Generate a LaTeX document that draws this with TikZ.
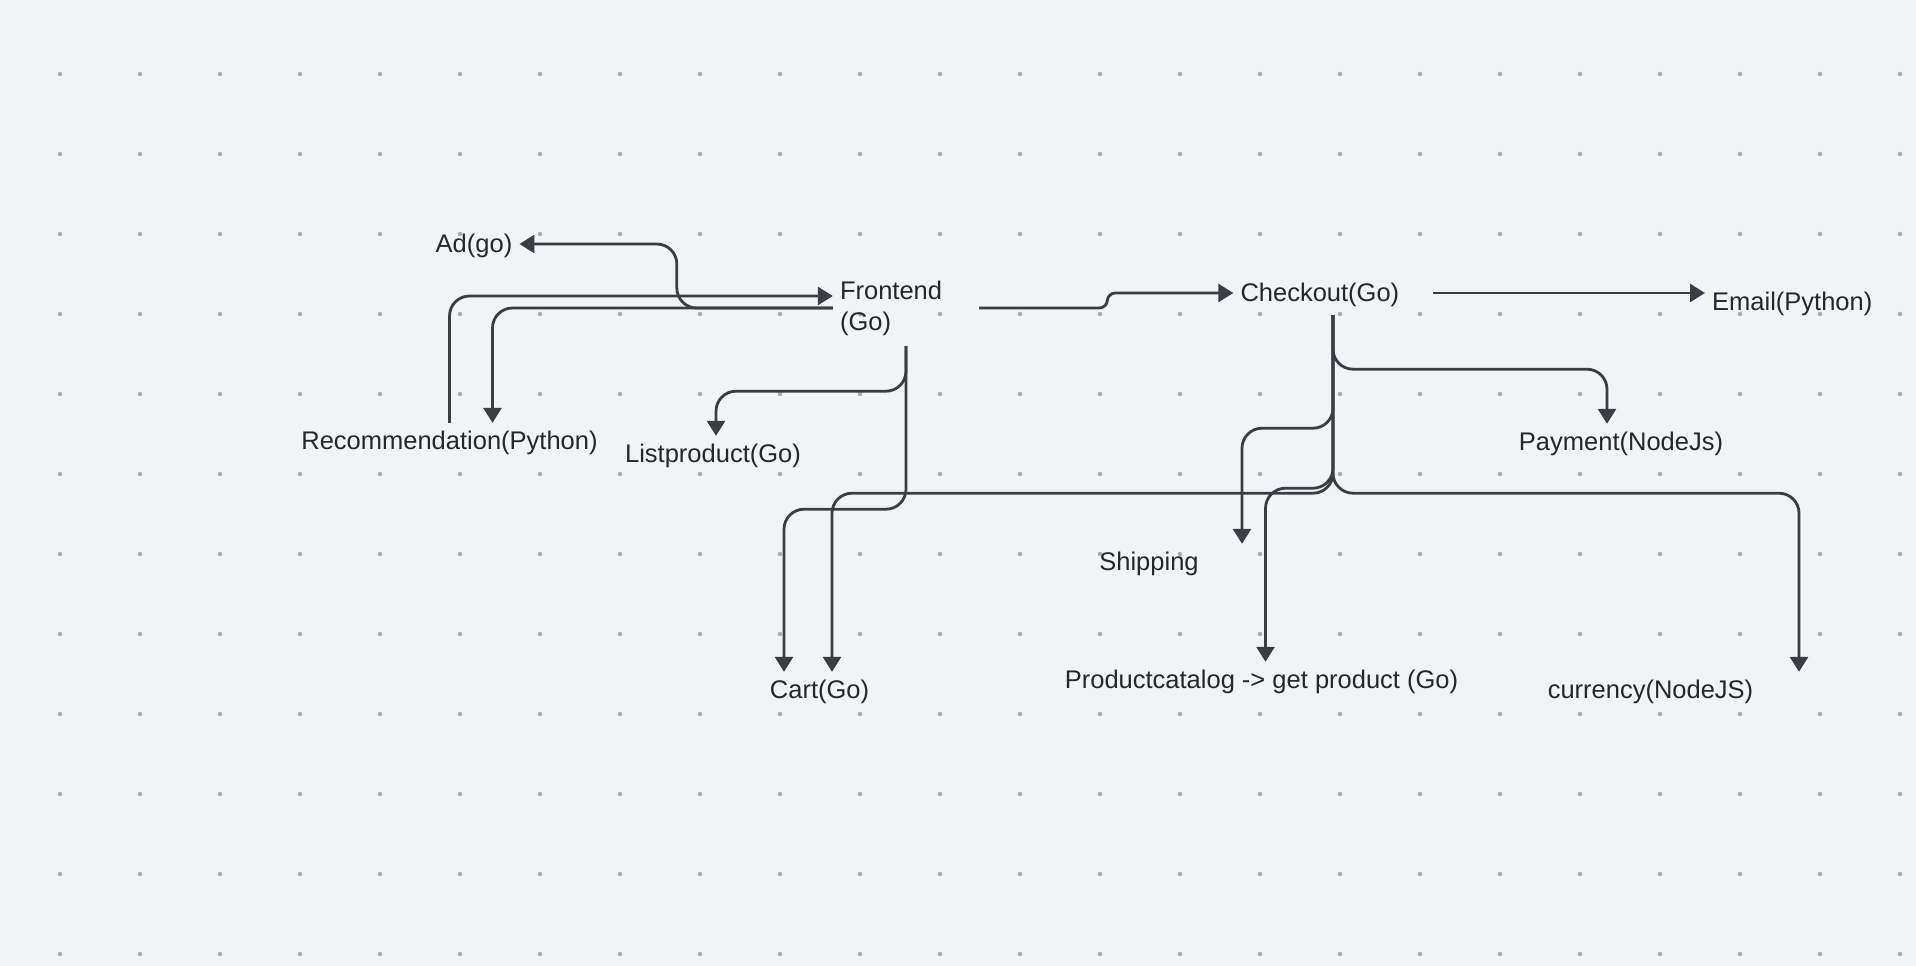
\documentclass[tikz,border=0pt]{standalone}
\usepackage{fontspec}
\setmainfont{Liberation Sans}
\usetikzlibrary{arrows.meta,positioning}
\definecolor{bgcol}{HTML}{F2F3F5}
\definecolor{dotcol}{HTML}{A8AAAF}
\definecolor{linecol}{HTML}{3A3D44}
\definecolor{txtcol}{HTML}{25272B}
\tikzset{
  lbl/.style={font=\fontsize{25.5}{31}\selectfont, text=txtcol, text height=20pt, text depth=4pt, inner xsep=7pt, inner ysep=6pt},
  arr/.style={draw=linecol, line width=2.8pt, rounded corners=20pt, -{Triangle[length=15pt,width=18pt]}},
}
\begin{document}
\begin{tikzpicture}[x=1pt, y=-1pt]
    % 背景
    \fill[bgcol] (0,0) rectangle (1916,966);
    \useasboundingbox (0,0) rectangle (1916,966);
    \foreach \x in {60,140,...,1900}
      \foreach \y in {74,154,...,954}
        \fill[dotcol] (\x,\y) circle (2.2pt);
    % サービス
    \node[lbl] (ad) at (474,244) {Ad(go)};
    \node[lbl] (rec) at (449.5,441) {Recommendation(Python)};
    \node[lbl] (list) at (713,454) {Listproduct(Go)};
    \node[lbl, text height=, text depth=, inner ysep=10pt, minimum height=76pt, text width=132pt, align=left] (front) at (906,308) {Frontend\\(Go)};
    \node[lbl, text width=185pt, align=left, minimum height=44pt] (checkout) at (1333,293) {Checkout(Go)};
    \node[lbl, anchor=west] (email) at (1705,302) {Email(Python)};
    \node[lbl] (payment) at (1621,442) {Payment(NodeJs)};
    \node[lbl] (shipping) at (1149,562) {Shipping};
    \node[lbl] (cart) at (819.5,690) {Cart(Go)};
    \node[lbl] (catalog) at (1261.5,680) {Productcatalog -> get product (Go)};
    \node[lbl] (currency) at (1650.5,690) {currency(NodeJS)};
    % Frontend から
    \draw[arr] (front.west) -- ++(-156,0) |- (ad.east);
    \draw[arr] (front.west) -| ([xshift=43pt]rec.north);
    \draw[arr] (rec.north) |- ([yshift=12pt]front.west);
    \draw[arr] (front.south) -- ++(0,45) -| ([xshift=3pt]list.north);
    \draw[arr] (front.south) -- ++(0,163) -| ([xshift=-35.5pt]cart.north);
    \draw[arr, rounded corners=8pt] (front.east) -| ([xshift=-126pt]checkout.west) -- (checkout.west);
    % Checkout から
    \draw[arr] (checkout.east) -- ([yshift=9pt]email.west);
    \draw[arr] (checkout.south) -- ++(0,54) -| ([xshift=-14pt]payment.north);
    \draw[arr] (checkout.south) -- ++(0,113) -| ([xshift=93pt]shipping.north);
    \draw[arr] (checkout.south) -- ++(0,173) -| ([xshift=4pt]catalog.north);
    \draw[arr] (checkout.south) -- ++(0,178) -| ([xshift=12.5pt]cart.north);
    \draw[arr] (checkout.south) -- ++(0,178) -| ([xshift=148.5pt]currency.north);
\end{tikzpicture}
\end{document}
